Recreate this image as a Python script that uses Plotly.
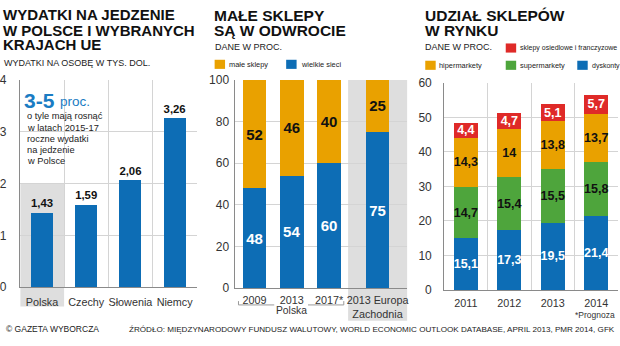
import plotly.graph_objects as go

W, H = 620, 346
FONT = "Liberation Sans Narrow, Arial Narrow, sans-serif"

# ---------------- data ----------------
countries = ["Polska", "Czechy", "Słowenia", "Niemcy"]
food_spend = [1.43, 1.59, 2.06, 3.26]

shop_cats = ["2009", "2013", "2017*", "2013 Europa<br>Zachodnia"]
shop_pos = [0, 1, 2, 3.3]
small_shops = [52, 46, 40, 25]
big_chains = [48, 54, 60, 75]

years = ["2011", "2012", "2013", "2014"]
discount = [15.1, 17.3, 19.5, 21.4]
supermarkets = [14.7, 15.4, 15.5, 15.8]
hypermarkets = [14.3, 14.0, 13.8, 13.7]
local_shops = [4.4, 4.7, 5.1, 5.7]

BLUE = "#0d6db5"
ORANGE = "#e9a100"
GREEN = "#4ea53c"
RED = "#df2a28"
GREY_BG = "#dedede"
GRID = "#d4d4d4"
AX = "#8a8a8a"


def fmt(v, nd=None):
    s = (f"{v:.{nd}f}" if nd is not None else f"{v:g}")
    return s.replace(".", ",")


def px(x):
    return x / W


def py(y):
    return 1 - y / H


fig = go.Figure()

# ---------- panel 1 ----------
fig.add_trace(go.Bar(
    x=countries, y=food_spend, xaxis="x", yaxis="y",
    marker=dict(color=BLUE, line=dict(width=0)), width=0.5,
    text=[f"<b>{fmt(v, 2)}</b>" for v in food_spend], textposition="outside",
    textangle=0,
    textfont=dict(family=FONT, size=17, color="#111"), cliponaxis=False,
    showlegend=False))

# ---------- panel 2 ----------
fig.add_trace(go.Bar(
    x=shop_pos, y=big_chains, xaxis="x2", yaxis="y2",
    marker=dict(color=BLUE, line=dict(width=0)), width=0.64,
    text=[f"<b>{fmt(v)}</b>" for v in big_chains], textposition="inside",
    insidetextanchor="middle", textangle=0,
    textfont=dict(family=FONT, size=15, color="white"), showlegend=False))
fig.add_trace(go.Bar(
    x=shop_pos, y=small_shops, xaxis="x2", yaxis="y2",
    marker=dict(color=ORANGE, line=dict(width=0)), width=0.64,
    text=[f"<b>{fmt(v)}</b>" for v in small_shops], textposition="inside",
    insidetextanchor="middle", textangle=0,
    textfont=dict(family=FONT, size=15, color="#111"), showlegend=False))

# ---------- panel 3 ----------
for vals, col, tcol in [(discount, BLUE, "white"), (supermarkets, GREEN, "#111"),
                        (hypermarkets, ORANGE, "#111"), (local_shops, RED, "white")]:
    fig.add_trace(go.Bar(
        x=years, y=vals, xaxis="x3", yaxis="y3",
        marker=dict(color=col, line=dict(width=0)), width=0.55,
        text=[f"<b>{fmt(v)}</b>" for v in vals], textposition="inside",
        insidetextanchor="middle", constraintext="none", textangle=0,
        textfont=dict(family=FONT, size=12.5, color=tcol), showlegend=False))

tickfont = dict(family=FONT, size=10.8, color="#333")
common_y = dict(showgrid=True, gridcolor=GRID, gridwidth=1, zeroline=False,
                showline=True, linecolor=AX, linewidth=1, ticks="",
                tickfont=dict(family=FONT, size=12, color="#333"), fixedrange=True)
common_x = dict(showline=True, linecolor=AX, linewidth=1, ticks="",
                tickfont=tickfont, fixedrange=True, tickangle=0)

fig.update_layout(
    width=W, height=H, margin=dict(l=0, r=0, t=0, b=0),
    paper_bgcolor="white", plot_bgcolor="rgba(0,0,0,0)",
    barmode="stack", bargap=0.3,
    font=dict(family=FONT, color="#222"),
    xaxis=dict(domain=[px(17), px(195)], anchor="y", type="category",
               showgrid=True, gridcolor=GRID, tickson="boundaries",
               ticklabelstandoff=5, **common_x),
    yaxis=dict(domain=[py(292), py(76)], anchor="x", range=[0, 4],
               dtick=1, ticklabelstandoff=10, **common_y),
    xaxis2=dict(domain=[px(234), px(407)], anchor="y2", range=[-0.51, 4.1],
                tickvals=shop_pos, ticktext=shop_cats, showgrid=False,
                ticklabelstandoff=2, **common_x),
    yaxis2=dict(domain=[py(293), py(76)], anchor="x2", range=[0, 100],
                dtick=20, ticklabelstandoff=3, **common_y),
    xaxis3=dict(domain=[px(444), px(619)], anchor="y3", type="category",
                showgrid=True, gridcolor=GRID, tickson="boundaries",
                ticklabelstandoff=3, **common_x),
    yaxis3=dict(domain=[py(295), py(79)], anchor="x3", range=[0, 60],
                dtick=10, ticklabelstandoff=9, **common_y),
)

shapes = []
# panel 1: grey highlight for Polska, white text box over grid
shapes.append(dict(type="rect", xref="paper", yref="paper", x0=px(17.5), x1=px(61.5),
                   y0=py(312), y1=py(184), fillcolor=GREY_BG, line=dict(width=0),
                   layer="below"))
shapes.append(dict(type="rect", xref="paper", yref="paper", x0=px(17.6), x1=px(105.5),
                   y0=py(183.5), y1=py(76.6), fillcolor="white", line=dict(width=0),
                   layer="between"))
# panel 2: grey box for Western Europe
shapes.append(dict(type="rect", xref="x2", yref="paper", x0=2.51, x1=4.1,
                   y0=py(327), y1=py(76), fillcolor=GREY_BG, line=dict(width=0),
                   layer="below"))
# Polska bracket
bc = dict(color="#9a9a9a", width=1)
shapes += [
    dict(type="line", xref="paper", yref="paper", x0=px(237), x1=px(273), y0=py(310.5), y1=py(310.5), line=bc),
    dict(type="line", xref="paper", yref="paper", x0=px(307), x1=px(343), y0=py(310.5), y1=py(310.5), line=bc),
    dict(type="line", xref="paper", yref="paper", x0=px(237), x1=px(237), y0=py(310.5), y1=py(306.5), line=bc),
    dict(type="line", xref="paper", yref="paper", x0=px(343), x1=px(343), y0=py(310.5), y1=py(306.5), line=bc),
]


def sq(x, y, col):
    return dict(type="rect", xref="paper", yref="paper", x0=px(x), x1=px(x + 10.5),
                y0=py(y + 9.5), y1=py(y), fillcolor=col, line=dict(width=0))


shapes += [sq(213, 55, ORANGE), sq(285, 55, BLUE),
           sq(506, 38, RED), sq(425, 56, ORANGE), sq(506, 56, GREEN), sq(578, 56, BLUE)]
fig.update_layout(shapes=shapes)

ann = []


def text(x, y, s, size=11, color="#222", bold=False, xanchor="left", family=FONT):
    ann.append(dict(xref="paper", yref="paper", x=px(x), y=py(y), text=(f"<b>{s}</b>" if bold else s),
                    showarrow=False, xanchor=xanchor, yanchor="middle",
                    font=dict(family=family, size=size, color=color)))


# titles
for i, line in enumerate(["WYDATKI NA JEDZENIE", "W POLSCE I WYBRANYCH", "KRAJACH UE"]):
    text(-2, [8, 24, 39.5][i], line, size=15, color="#111", bold=True)
for i, line in enumerate(["MAŁE SKLEPY", "SĄ W ODWROCIE"]):
    text(210, [9, 24.5][i], line, size=15.5, color="#111", bold=True)
for i, line in enumerate(["UDZIAŁ SKLEPÓW", "W RYNKU"]):
    text(423, [9, 24.5][i], line, size=15.5, color="#111", bold=True)

text(-1, 58, "WYDATKI NA OSOBĘ W TYS. DOL.", size=9)
text(211, 42, "DANE W PROC.", size=9)
text(423, 42, "DANE W PROC.", size=9)

# legends
text(225, 60, "małe sklepy", size=7.4)
text(298, 60, "wielkie sieci", size=7.4)
text(518, 43, "sklepy osiedlowe i franczyzowe", size=7)
text(437, 61, "hipermarkety", size=7.4)
text(518, 61, "supermarkety", size=7.4)
text(591, 61, "dyskonty", size=7)

# text box panel 1
text(19, 97, "3-5", size=21, color="#1a7cc3", bold=True)
text(55, 99, "proc.", size=13.5, color="#1a7cc3")
for i, line in enumerate(["o tyle mają rosnąć", "w latach 2015-17", "roczne wydatki",
                          "na jedzenie", "w Polsce"]):
    text(22, 114 + i * 11.6, line, size=9.3, color="#222")

# Polska label under bracket
text(290, 316.5, "Polska", size=10.3, color="#333", xanchor="center")
# footnote
text(618, 321, "*Prognoza", size=8.5, color="#333", xanchor="right")
# footer
text(1, 336, "© GAZETA WYBORCZA", size=8.5, color="#222")
text(618, 336, "ŹRÓDŁO: MIĘDZYNARODOWY FUNDUSZ WALUTOWY, WORLD ECONOMIC OUTLOOK DATABASE, APRIL 2013, PMR 2014, GFK",
     size=8.1, color="#222", xanchor="right")

fig.update_layout(annotations=ann)
fig.write_html("out.html", config=dict(displayModeBar=False))
